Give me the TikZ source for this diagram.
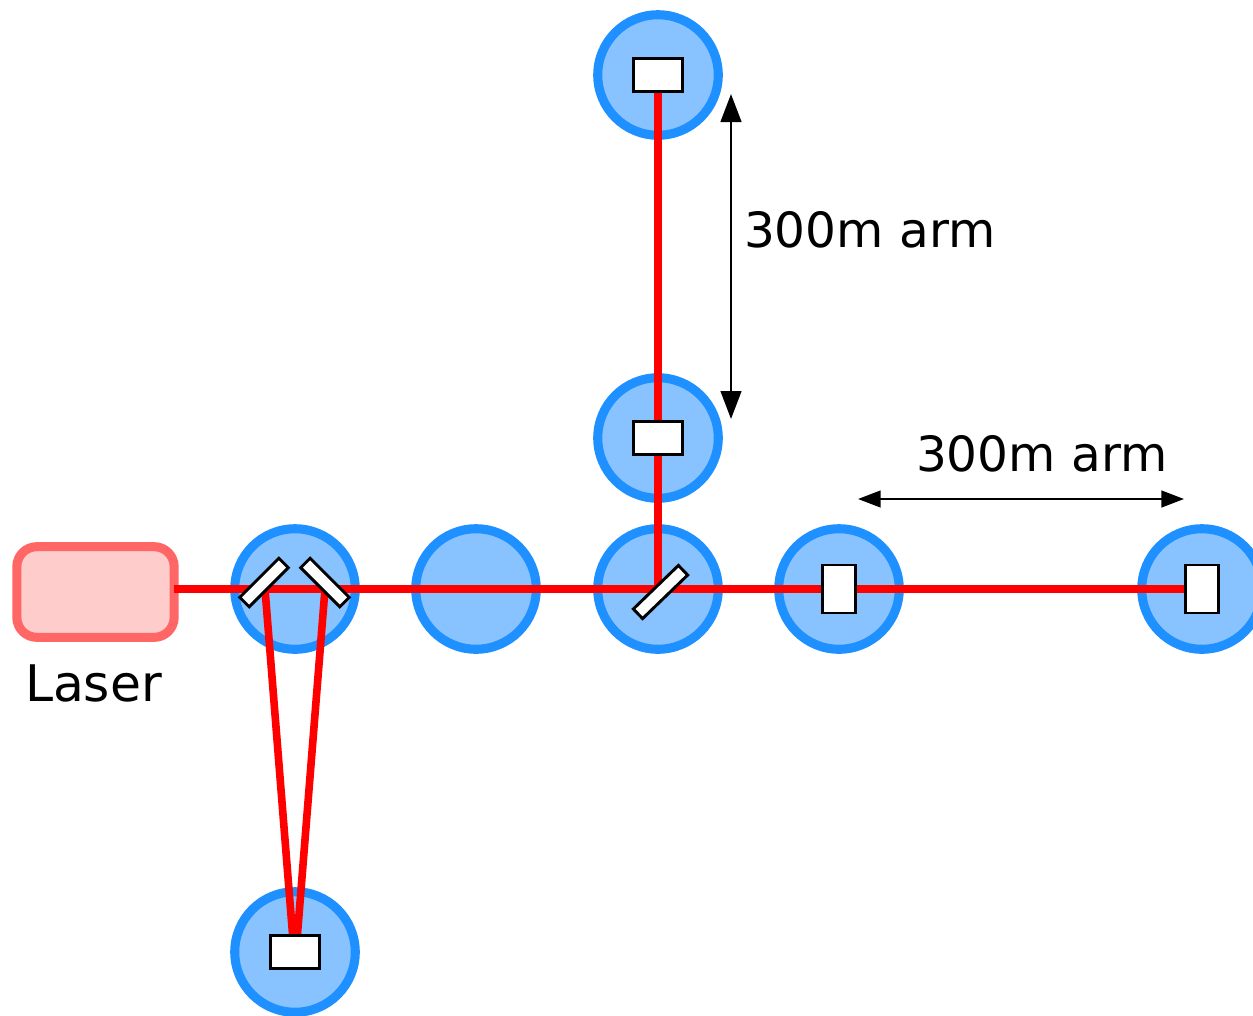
\documentclass[tikz,border=0pt]{standalone}
\usepackage{fontspec}
\setmainfont{DejaVu Sans}
\usetikzlibrary{arrows.meta}
\definecolor{ringblue}{HTML}{1E90FF}
\definecolor{discblue}{HTML}{88C2FF}
\definecolor{laserline}{HTML}{FF6666}
\definecolor{laserfill}{HTML}{FFCCCC}
\tikzset{
  disc/.style={circle,draw=ringblue,fill=discblue,line width=6.8pt,minimum size=90.4pt,inner sep=0pt,outer sep=0pt},
  ray/.style={draw=red,line width=5.7pt},
  optic/.style={draw=black,fill=white,line width=2.2pt,inner sep=0pt,outer sep=0pt},
  dim/.style={draw=black,line width=1.8pt},
  lbl/.style={font=\fontsize{36.4}{40}\selectfont,inner sep=0pt,outer sep=0pt,anchor=base west,text=black}
}
\begin{document}
\begin{tikzpicture}[x=0.75pt,y=-0.75pt]
\useasboundingbox (0,0) rectangle (1253,1015);
\node[disc] (d1) at (295,589) {};
\node[disc] (d2) at (476,589) {};
\node[disc] (d3) at (658,589) {};
\node[disc] (d4) at (839,589) {};
\node[disc] (d5) at (1202,589) {};
\node[disc] (d6) at (658,438) {};
\node[disc] (d7) at (658,75) {};
\node[disc] (d8) at (295,952) {};
\node[draw=laserline,fill=laserfill,line width=6.8pt,rounded corners=15pt,minimum width=118pt,minimum height=68pt,inner sep=0pt,outer sep=0pt] (laser) at (95.5,592) {};
\coordinate (laserout) at (174,589);
\coordinate (beamend) at (1202,589);
\coordinate (m1c) at (265,589);
\coordinate (m2c) at (325,589);
\coordinate (m3c) at (658,589);
\coordinate (f1) at (293,940);
\coordinate (f2) at (297,940);
\coordinate (top) at (658,75);
\draw[ray] (laserout) -- (beamend);
\draw[ray] (m3c) -- (top);
\draw[ray] (m1c) -- (f1);
\draw[ray] (m2c) -- (f2);
\node[optic,minimum width=36.4pt,minimum height=24.7pt] (b7) at (658,75) {};
\node[optic,minimum width=36.4pt,minimum height=24.7pt] (b6) at (658,438) {};
\node[optic,minimum width=36.4pt,minimum height=24.7pt] (b8) at (295,952) {};
\node[optic,minimum width=24.7pt,minimum height=36pt] (b4) at (839,589) {};
\node[optic,minimum width=24.7pt,minimum height=36pt] (b5) at (1202,589) {};
\node[optic,rotate=45,minimum width=41.5pt,minimum height=10pt] (m1) at (264,582.5) {};
\node[optic,rotate=-45,minimum width=41.5pt,minimum height=10pt] (m2) at (325,582.5) {};
\node[optic,rotate=44,minimum width=47pt,minimum height=10pt] (m3) at (660.5,592) {};
\coordinate (a1) at (731,94);
\coordinate (a2) at (731,419);
\coordinate (h1) at (858,499);
\coordinate (h2) at (1184,499);
\draw[dim,{Stealth[inset=0pt,length=21pt,width=15.5pt]}-{Stealth[inset=0pt,length=21pt,width=15.5pt]}] (a1) -- (a2);
\draw[dim,{Stealth[inset=0pt,length=17pt,width=12.5pt]}-{Stealth[inset=0pt,length=17pt,width=12.5pt]}] (h1) -- (h2);
\node[lbl] (t1) at (744,247) {300m arm};
\node[lbl] (t2) at (916,471) {300m arm};
\node[lbl,font=\fontsize{37.8}{40}\selectfont] (t3) at (25,701) {Laser};
\end{tikzpicture}
\end{document}
